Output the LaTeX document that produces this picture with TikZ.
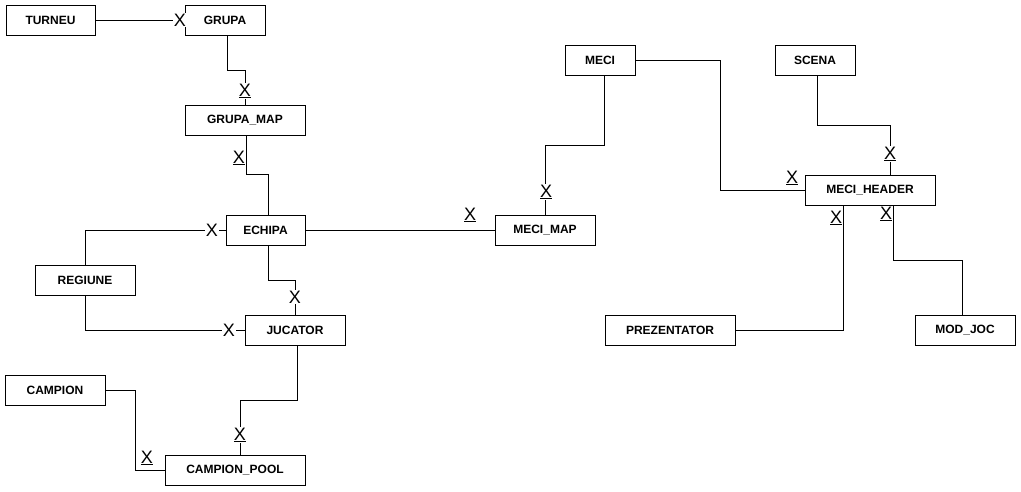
\documentclass[tikz,border=0pt]{standalone}
\usepackage{fontspec}
\setmainfont{Liberation Sans}
\begin{document}
\begin{tikzpicture}[x=1pt,y=-1pt,
  ent/.style={draw=black, line width=1pt, fill=white, minimum height=30pt, inner sep=0pt,
    font=\fontsize{12}{14}\selectfont\bfseries},
  conn/.style={draw=black, line width=1pt},
  mk/.style={inner sep=0.6pt, font=\fontsize{18}{18}\selectfont},
  mkw/.style={mk, fill=white}]
\useasboundingbox (0,0) rectangle (1021,491);
\fill[white] (0,0) rectangle (1021,491);
% entities
\node[ent, minimum width=89pt] (TURNEU) at (50.5,20) {TURNEU};
\node[ent, minimum width=80pt] (GRUPA) at (225,20) {GRUPA};
\node[ent, minimum width=120pt] (GRUPAMAP) at (245,120) {GRUPA\_MAP};
\node[ent, minimum width=79pt] (ECHIPA) at (265.5,230) {ECHIPA};
\node[ent, minimum width=100pt] (REGIUNE) at (85,280) {REGIUNE};
\node[ent, minimum width=100pt] (JUCATOR) at (295,330) {JUCATOR};
\node[ent, minimum width=100pt] (CAMPION) at (55,390) {CAMPION};
\node[ent, minimum width=140pt] (CAMPIONPOOL) at (235,470) {CAMPION\_POOL};
\node[ent, minimum width=70pt] (MECI) at (600,60) {MECI};
\node[ent, minimum width=100pt] (MECIMAP) at (545,230) {MECI\_MAP};
\node[ent, minimum width=80pt] (SCENA) at (815,60) {SCENA};
\node[ent, minimum width=130pt] (MECIHEADER) at (870,190) {MECI\_HEADER};
\node[ent, minimum width=130pt] (PREZENTATOR) at (670,330) {PREZENTATOR};
\node[ent, minimum width=100pt] (MODJOC) at (965,330) {MOD\_JOC};
% connectors
\draw[conn] (TURNEU.east) -- (GRUPA.west);
\draw[conn] (GRUPA.south -| 227,0) -- (227,70) -| (GRUPAMAP.north -| 245,0);
\draw[conn] (GRUPAMAP.south -| 246,0) -- (246,174) -| (ECHIPA.north -| 268,0);
\draw[conn] (ECHIPA.west) -| (REGIUNE.north);
\draw[conn] (ECHIPA.south -| 268,0) -- (268,280) -| (JUCATOR.north);
\draw[conn] (REGIUNE.south) |- (JUCATOR.west);
\draw[conn] (JUCATOR.south -| 297,0) -- (297,400) -| (CAMPIONPOOL.north -| 240,0);
\draw[conn] (CAMPION.east) -- (135,390) |- (CAMPIONPOOL.west);
\draw[conn] (ECHIPA.east) -- (MECIMAP.west);
\draw[conn] (MECI.south -| 604,0) -- (604,145) -| (MECIMAP.north);
\draw[conn] (MECI.east) -- (720,60) |- (MECIHEADER.west);
\draw[conn] (SCENA.south -| 817,0) -- (817,125) -| (MECIHEADER.north -| 890,0);
\draw[conn] (PREZENTATOR.east) -| (MECIHEADER.south -| 843,0);
\draw[conn] (MODJOC.north -| 962,0) -- (962,260) -| (MECIHEADER.south -| 893,0);
% cardinality marks
\node[mkw] (m1) at (180,20) {X};
\node[mkw] (m2) at (245,91) {\underline{X}};
\node[mk] (m3) at (239,158) {\underline{X}};
\node[mkw] (m4) at (212,230) {X};
\node[mkw] (m5) at (295,297) {X};
\node[mkw] (m6) at (229,330) {X};
\node[mkw] (m7) at (240,435) {\underline{X}};
\node[mk] (m8) at (147,458) {\underline{X}};
\node[mk] (m9) at (470,215) {\underline{X}};
\node[mkw] (m10) at (546,192) {\underline{X}};
\node[mk] (m11) at (792,178) {\underline{X}};
\node[mkw] (m12) at (890,154) {\underline{X}};
\node[mk] (m13) at (836,218) {\underline{X}};
\node[mk] (m14) at (886,214) {\underline{X}};
\end{tikzpicture}
\end{document}
